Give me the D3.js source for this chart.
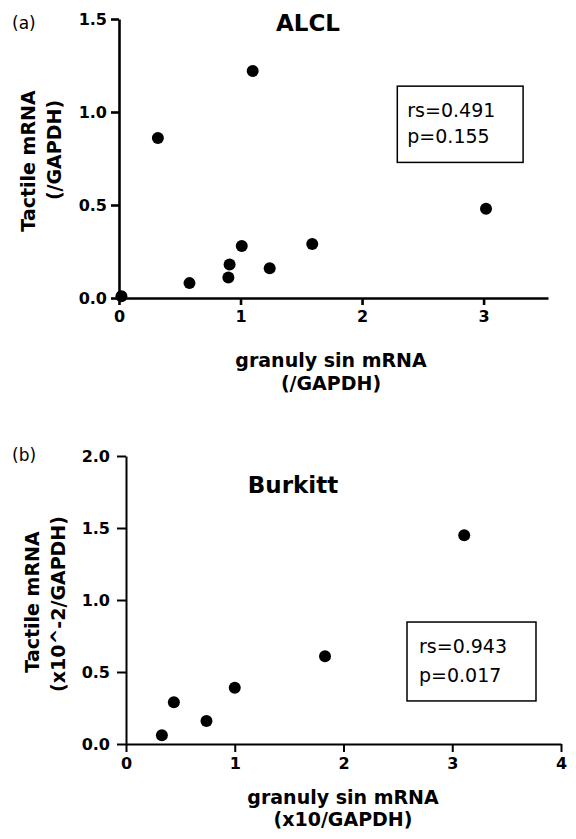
<!DOCTYPE html>
<html>
<head>
<meta charset="utf-8">
<script src="https://cdn.jsdelivr.net/npm/d3@7"></script>
<style>
	body { margin: 0; background: #fff; }
	svg { display: block; font-family: "DejaVu Sans", sans-serif; }
	.axis path, .axis line { stroke: #000; }
	.lab { font-size: 19px; font-weight: bold; }
</style>
</head>
<body>
<svg id="chart" width="576" height="839"></svg>
<script>

// (a) ALCL
var alclGranulysin = [0.02, 0.32, 1.10, 0.58, 0.90, 0.91, 1.01, 1.24, 1.59, 3.02];
var alclTactile    = [0.01, 0.86, 1.22, 0.08, 0.11, 0.18, 0.28, 0.16, 0.29, 0.48];
var alclXTicks = [0, 1, 2, 3];
var alclYTicks = [0, 0.5, 1.0, 1.5];
var alclStats = ["rs=0.491", "p=0.155"];

// (b) Burkitt
var burkittGranulysin = [0.33, 0.44, 0.74, 1.00, 1.83, 3.11];
var burkittTactile    = [0.06, 0.29, 0.16, 0.39, 0.61, 1.45];
var burkittXTicks = [0, 1, 2, 3, 4];
var burkittYTicks = [0, 0.5, 1.0, 1.5, 2.0];
var burkittStats = ["rs=0.943", "p=0.017"];

var svg = d3.select("#chart");

var panels = [
	{
		tag: "(a)", tagY: 29,
		title: "ALCL", titleX: 308, titleY: 31,
		xs: alclGranulysin, ys: alclTactile,
		xTicks: alclXTicks, yTicks: alclYTicks,
		x: d3.scaleLinear().domain([0, 3.53]).range([119, 548]),
		y: d3.scaleLinear().domain([0, 1.5]).range([298, 19]),
		axisWidth: 2.6, xTick: 7, xPad: 6, yTick: 8, yPad: 4,
		yLabel: ["Tactile mRNA", "(/GAPDH)"], yLabX: [35, 61], yLabY: [161, 150],
		xLabel: ["granuly sin mRNA", "(/GAPDH)"], xLabX: 331, xLabY: [367, 390],
		stats: alclStats, box: [2.29, 1.139, 3.325, 0.729], textOff: [10, 31, 57]
	},
	{
		tag: "(b)", tagY: 461,
		title: "Burkitt", titleX: 293, titleY: 493,
		xs: burkittGranulysin, ys: burkittTactile,
		xTicks: burkittXTicks, yTicks: burkittYTicks,
		x: d3.scaleLinear().domain([0, 4]).range([126, 561]),
		y: d3.scaleLinear().domain([0, 2]).range([744, 456]),
		axisWidth: 2, xTick: 8, xPad: 6, yTick: 9, yPad: 7,
		yLabel: ["Tactile mRNA", "(x10^-2/GAPDH)"], yLabX: [39, 65], yLabY: [602, 604],
		xLabel: ["granuly sin mRNA", "(x10/GAPDH)"], xLabX: 343, xLabY: [804, 826],
		stats: burkittStats, box: [2.584, 0.847, 3.77, 0.299], textOff: [12, 31, 60]
	}
];

panels.forEach(function(p)
{
	var g = svg.append("g");

	g.append("text")
		.attr("x", 12)
		.attr("y", p.tagY)
		.style("font-size", "17px")
		.text(p.tag);

	g.append("text")
		.attr("x", p.titleX)
		.attr("y", p.titleY)
		.attr("text-anchor", "middle")
		.style("font-size", "23px")
		.style("font-weight", "bold")
		.text(p.title);

	var y0 = p.y(0);
	var x0 = p.x(0);

	g.append("g")
		.attr("class", "axis")
		.attr("transform", "translate(0," + y0 + ")")
		.call(d3.axisBottom(p.x).tickValues(p.xTicks).tickFormat(d3.format("d"))
			.tickSize(p.xTick).tickSizeOuter(0).tickPadding(p.xPad));

	g.append("g")
		.attr("class", "axis")
		.attr("transform", "translate(" + x0 + ",0)")
		.call(d3.axisLeft(p.y).tickValues(p.yTicks).tickFormat(d3.format(".1f"))
			.tickSize(p.yTick).tickSizeOuter(0).tickPadding(p.yPad));

	g.selectAll(".axis path, .axis line").style("stroke-width", p.axisWidth);
	g.selectAll(".axis text")
		.style("font-family", "'DejaVu Sans', sans-serif")
		.style("font-size", "16px")
		.style("font-weight", "bold")
		.attr("fill", "#000");

	// axis titles
	p.yLabel.forEach(function(t, i)
	{
		g.append("text")
			.attr("class", "lab")
			.attr("text-anchor", "middle")
			.attr("transform", "translate(" + p.yLabX[i] + "," + p.yLabY[i] + ") rotate(-90)")
			.text(t);
	});

	p.xLabel.forEach(function(t, i)
	{
		g.append("text")
			.attr("class", "lab")
			.attr("text-anchor", "middle")
			.attr("x", p.xLabX)
			.attr("y", p.xLabY[i])
			.text(t);
	});

	// points
	g.selectAll("circle")
		.data(p.xs.map(function(d, i) { return [d, p.ys[i]]; }))
		.enter()
		.append("circle")
		.attr("cx", function(d) { return p.x(d[0]); })
		.attr("cy", function(d) { return p.y(d[1]); })
		.attr("r", 6)
		.attr("fill", "#000");

	// stats box
	var bx = p.x(p.box[0]), by = p.y(p.box[1]);
	g.append("rect")
		.attr("x", bx)
		.attr("y", by)
		.attr("width", p.x(p.box[2]) - bx)
		.attr("height", p.y(p.box[3]) - by)
		.attr("fill", "none")
		.attr("stroke", "#000")
		.attr("stroke-width", 1.5);

	p.stats.forEach(function(t, i)
	{
		g.append("text")
			.attr("x", bx + p.textOff[0])
			.attr("y", by + p.textOff[i + 1])
			.style("font-size", "19px")
			.text(t);
	});
});

</script>
</body>
</html>
